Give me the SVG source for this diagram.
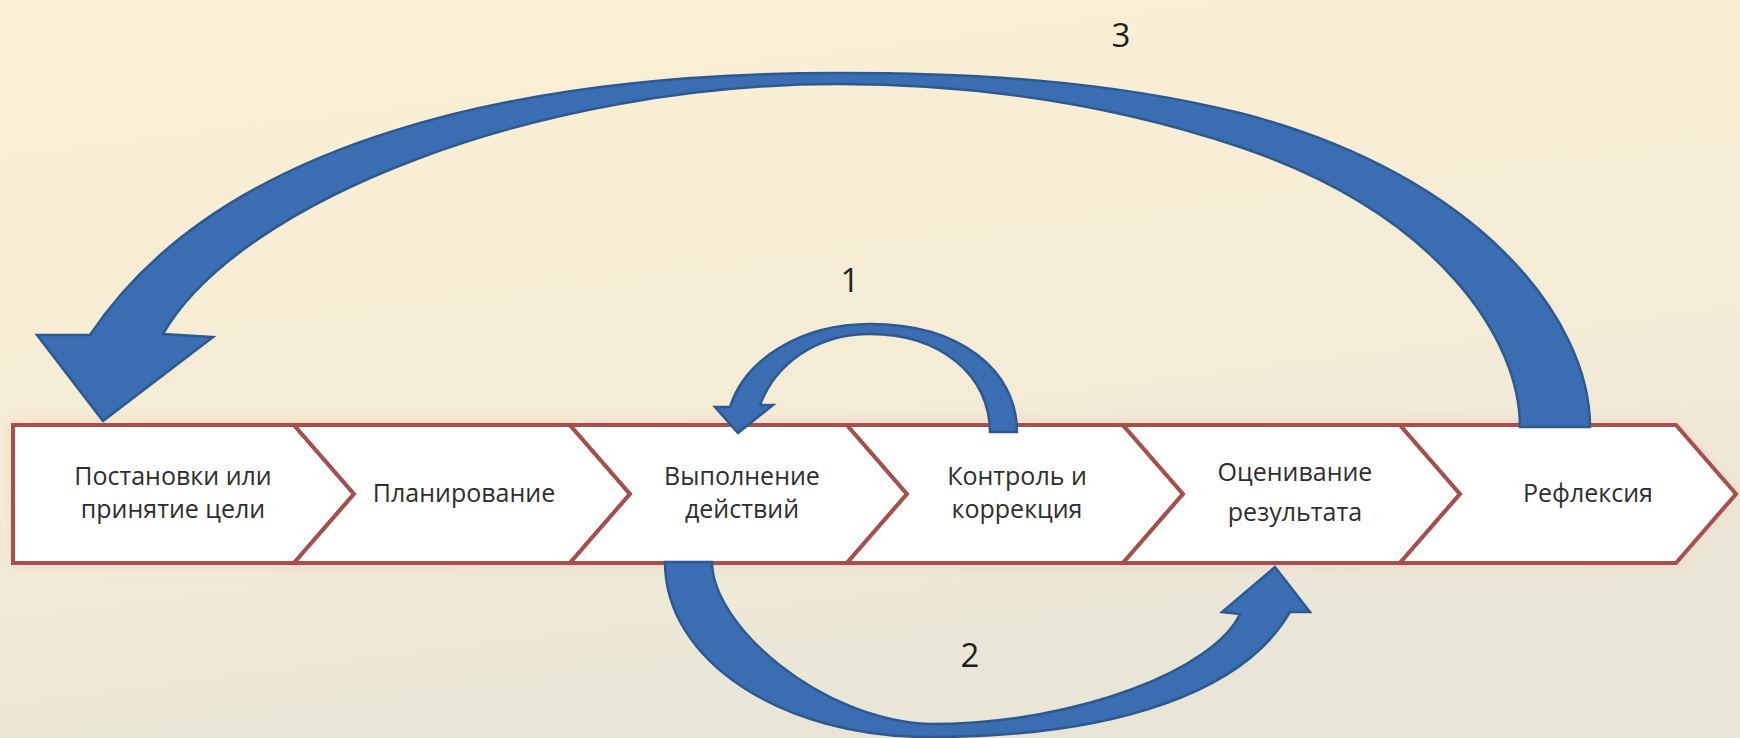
<svg xmlns="http://www.w3.org/2000/svg" width="1740" height="738" viewBox="0 0 1740 738">
  <defs>
    <linearGradient id="bg" x1="0" y1="0" x2="0.3" y2="1">
      <stop offset="0" stop-color="#fbf0d4"/>
      <stop offset="0.6" stop-color="#f5ecd6"/>
      <stop offset="1" stop-color="#e9e6d8"/>
    </linearGradient>
    <filter id="glow" x="-5%" y="-30%" width="110%" height="160%">
      <feGaussianBlur stdDeviation="6"/>
    </filter>
    <style>
      .step { fill: #ffffff; stroke: #a64f4d; stroke-width: 4; stroke-linejoin: miter; }
      .lbl { font-family: "Open Sans", "Liberation Sans", sans-serif; font-size: 25px; fill: #2e2e2e; text-anchor: middle; }
      .num { font-family: "Open Sans", "Liberation Sans", sans-serif; font-size: 33px; fill: #1e1e1e; text-anchor: middle; }
      .arrow { fill: #3b6db3; stroke: #2d5990; stroke-width: 2.5; stroke-linejoin: miter; }
    </style>
  </defs>

  <rect x="0" y="0" width="1740" height="738" fill="url(#bg)"/>
  <path d="M 10 420 L 1678 420 L 1738 494 L 1678 568 L 10 568 Z" fill="#f3d0c2" opacity="0.65" filter="url(#glow)"/>

  <g id="step1">
    <path class="step" d="M 13 425 L 294 425 L 354 494 L 294 563 L 13 563 Z"/>
    <text class="lbl" x="173" y="485">Постановки или</text>
    <text class="lbl" x="173" y="518">принятие цели</text>
  </g>
  <g id="step2">
    <path class="step" d="M 294 425 L 570 425 L 630 494 L 570 563 L 294 563 L 354 494 Z"/>
    <text class="lbl" x="464" y="502">Планирование</text>
  </g>
  <g id="step3">
    <path class="step" d="M 570 425 L 847 425 L 907 494 L 847 563 L 570 563 L 630 494 Z"/>
    <text class="lbl" x="742" y="485">Выполнение</text>
    <text class="lbl" x="742" y="518">действий</text>
  </g>
  <g id="step4">
    <path class="step" d="M 847 425 L 1123 425 L 1183 494 L 1123 563 L 847 563 L 907 494 Z"/>
    <text class="lbl" x="1017" y="485">Контроль и</text>
    <text class="lbl" x="1017" y="518">коррекция</text>
  </g>
  <g id="step5">
    <path class="step" d="M 1123 425 L 1400 425 L 1460 494 L 1400 563 L 1123 563 L 1183 494 Z"/>
    <text class="lbl" x="1295" y="481">Оценивание</text>
    <text class="lbl" x="1295" y="521">результата</text>
  </g>
  <g id="step6">
    <path class="step" d="M 1400 425 L 1676 425 L 1736 494 L 1676 563 L 1400 563 L 1460 494 Z"/>
    <text class="lbl" x="1588" y="502">Рефлексия</text>
  </g>

  <g id="connectors">
    <path id="arrow3" class="arrow" d="M 1590 427 C 1590 320 1480 175 1240 113 C 1106 80 972 73 838 73 C 520 73 220 140 90 335 L 37 335 L 103 421 L 213 337 L 163 334 C 240 200 540 84 838 84 C 972 84 1106 102 1240 147 C 1440 215 1520 340 1520 427 Z"/>
    <path id="arrow1" class="arrow" d="M 1017 432 C 1017 370 960 324 870 324 C 800 324 745 360 730 407 L 715 407 L 738 433 L 773 405 L 760 405 C 775 365 815 334 870 334 C 940 334 990 375 990 432 Z"/>
    <path id="arrow2" class="arrow" d="M 665 562 C 665 660 780 737 930 737 C 1120 737 1245 690 1290 612 L 1310 612 L 1275 567 L 1222 612 L 1240 614 C 1215 668 1080 724 930 724 C 820 720 712 625 712 562 Z"/>
    <text class="num" x="850" y="292">1</text>
    <text class="num" x="970" y="667">2</text>
    <text class="num" x="1121" y="47">3</text>
  </g>
</svg>
